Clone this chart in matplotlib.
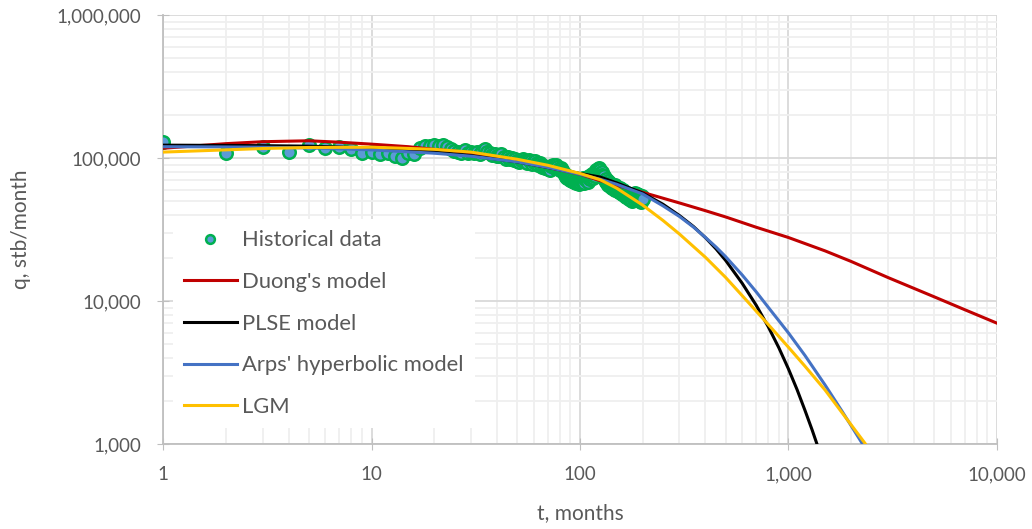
import matplotlib
matplotlib.use("Agg")
import matplotlib.pyplot as plt
from matplotlib.ticker import FuncFormatter, LogLocator, NullFormatter

plt.rcParams['font.family'] = ['Lato', 'DejaVu Sans']

# historical monthly production, t = 1..200 months
hist_t = list(range(1, 201))
hist_q = [
    130000, 109000, 119000, 111000, 123000, 117000, 119000, 116000, 109000, 111000,
    107000, 108000, 104000, 99500, 108000, 107000, 118000, 121000, 122000, 123000,
    121000, 124000, 120000, 116000, 112000, 110000, 108000, 113000, 109000, 111000,
    108000, 110000, 106000, 112000, 115000, 111000, 109000, 105000, 107000, 104000,
    103000, 106000, 101000, 99000, 102000, 98000, 100000, 97000, 99000, 96000,
    94000, 97000, 99000, 95000, 96000, 93000, 97000, 95000, 91000, 94000,
    96000, 92000, 90000, 93000, 89000, 86000, 88000, 85000, 87000, 84000,
    86000, 83000, 88000, 90000, 87000, 85000, 89000, 86000, 84000, 82000,
    85000, 83000, 80000, 78000, 76000, 74000, 73000, 75000, 72000, 70000,
    73000, 69000, 71000, 68000, 70000, 67000, 69000, 68000, 66000, 67000,
    70000, 68000, 72000, 69000, 67000, 71000, 73000, 70000, 68000, 72000,
    75000, 71000, 74000, 77000, 73000, 76000, 79000, 75000, 78000, 82000,
    80000, 84000, 81000, 85000, 83000, 78000, 80000, 76000, 74000, 72000,
    75000, 70000, 68000, 71000, 67000, 65000, 69000, 66000, 64000, 67000,
    63000, 65000, 62000, 64000, 61000, 63000, 60000, 65000, 62000, 61000,
    63000, 59000, 61000, 58000, 62000, 60000, 57000, 59000, 56000, 60000,
    58000, 55000, 57000, 54000, 58000, 56000, 53000, 55000, 57000, 54000,
    52000, 56000, 53000, 55000, 51000, 54000, 52000, 50000, 53000, 55000,
    51000, 54000, 57000, 53000, 55000, 52000, 56000, 54000, 51000, 53000,
    55000, 52000, 50000, 54000, 52000, 49000, 53000, 51000, 54000, 52000,
]

duong_t = [1, 2, 3, 5, 7, 10, 15, 20, 30, 50, 70, 100, 125, 150, 200, 300, 400, 500, 700,
           1000, 1500, 2000, 3000, 5000, 7000, 10000]
duong_q = [117000, 126000, 130000, 132000, 129000, 125000, 120000, 115000, 109000, 95000,
           86000, 77000, 69500, 64500, 57500, 48500, 42800, 38700, 32800, 27800, 22400,
           18900, 14600, 10700, 8700, 7000]

plse_t = [1, 2, 3, 5, 7, 10, 20, 30, 50, 70, 100, 125, 150, 200, 250, 300, 350, 400, 450,
          500, 600, 700, 800, 900, 1000, 1100, 1200, 1300, 1370, 1450]
plse_q = [123000, 122500, 122000, 121000, 119500, 117000, 110000, 104000, 94000, 86000,
          78000, 73600, 67000, 56900, 47500, 39600, 33200, 27700, 23100, 19200, 13300,
          9350, 6610, 4700, 3350, 2400, 1720, 1250, 1000, 783]

arps_t = [1, 2, 3, 5, 7, 10, 20, 30, 50, 70, 100, 125, 150, 200, 250, 300, 350, 400, 450,
          500, 600, 700, 800, 1000, 1200, 1500, 1800, 2000, 2290, 2500]
arps_q = [120000, 119500, 119000, 117500, 116000, 114000, 108000, 103000, 94000, 86000,
          77000, 71000, 65500, 56000, 46300, 39000, 32900, 27800, 23800, 20400, 15200,
          11600, 9040, 5980, 4160, 2580, 1710, 1340, 977, 792]

lgm_t = [1, 2, 3, 5, 10, 20, 30, 50, 70, 100, 125, 150, 200, 250, 300, 400, 500, 600,
         700, 800, 1000, 1200, 1500, 2000, 2330, 2500]
lgm_q = [110000, 114000, 116500, 118500, 119000, 115000, 110000, 98000, 89000, 78000,
         70500, 61500, 46800, 36600, 29400, 20200, 14600, 10900, 8500, 6850, 4750, 3500,
         2380, 1360, 1010, 870]

txt = '#595959'

fig = plt.figure(figsize=(10.32, 5.29), dpi=100)
ax = fig.add_axes([0.158, 0.1607, 0.808, 0.8109])
ax.set_xscale('log')
ax.set_yscale('log')
ax.set_xlim(1, 10000)
ax.set_ylim(1000, 1000000)

ax.grid(True, which='major', color='#D9D9D9', lw=1.3)
ax.grid(True, which='minor', color='#EFEFEF', lw=1.3)
ax.set_axisbelow(True)
ax.xaxis.set_minor_locator(LogLocator(base=10, subs=range(2, 10)))
ax.yaxis.set_minor_locator(LogLocator(base=10, subs=range(2, 10)))
ax.xaxis.set_minor_formatter(NullFormatter())
ax.yaxis.set_minor_formatter(NullFormatter())
ax.xaxis.set_major_formatter(FuncFormatter(lambda v, p: '{:,.0f}'.format(v)))
ax.yaxis.set_major_formatter(FuncFormatter(lambda v, p: '{:,.0f}'.format(v)))
ax.tick_params(which='major', direction='inout', length=8, color='#BFBFBF',
               labelsize=13.5, labelcolor=txt, pad=12)
ax.tick_params(which='minor', length=0)
for s in ['top', 'right']:
    ax.spines[s].set_visible(False)
for s in ['left', 'bottom']:
    ax.spines[s].set_color('#BFBFBF')
    ax.spines[s].set_linewidth(1.3)

ax.plot(hist_t, hist_q, 'o', ms=9, mfc='#5B9BD5', mec='#00B050', mew=1.8,
        label='Historical data', zorder=3)
ax.plot(duong_t, duong_q, color='#C00000', lw=2.2, label="Duong's model", zorder=4)
ax.plot(plse_t, plse_q, color='black', lw=2.2, label='PLSE model', zorder=4)
ax.plot(arps_t, arps_q, color='#4472C4', lw=2.2, label="Arps' hyperbolic model", zorder=4)
ax.plot(lgm_t, lgm_q, color='#FFC000', lw=2.2, label='LGM', zorder=4)

ax.set_xlabel('t, months', fontsize=15, color=txt, labelpad=14)
ax.set_ylabel('q, stb/month', fontsize=15, color=txt, labelpad=18)

leg = ax.legend(loc='upper left', bbox_to_anchor=(0.012, 0.524), borderaxespad=0,
                fontsize=15.8, frameon=True, fancybox=False, edgecolor='none',
                facecolor='white', framealpha=1, handlelength=2.4, handletextpad=0.25,
                labelspacing=0.99, borderpad=0.5, markerscale=0.7)
for t in leg.get_texts():
    t.set_color(txt)
leg.set_zorder(5)

fig.savefig('out.png', dpi=100)
